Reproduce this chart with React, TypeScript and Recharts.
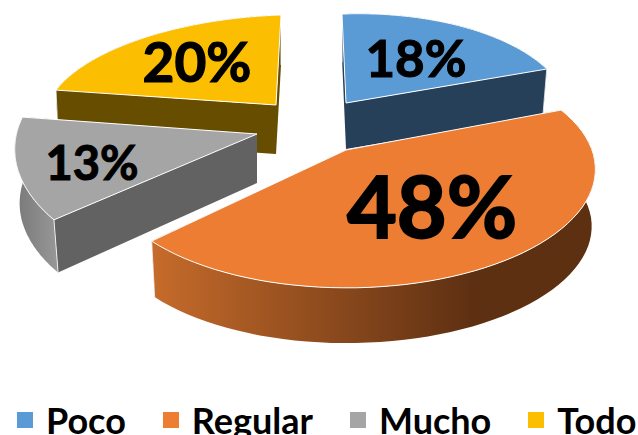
import { PieChart, Pie, Legend } from 'recharts';

const categories = ['Poco', 'Regular', 'Mucho', 'Todo'];
const percents = [18, 48, 13, 20];
const topColors = ['#5B9BD5', '#EC7D32', '#A5A5A5', '#FCBE00'];

const sliceRows = categories.map((name, i) => ({ name, value: percents[i], fill: topColors[i] }));
// Todo has to be painted first, Mucho's top lies over its cut face, so the pie starts one slice earlier
const chartData = [sliceRows[3], sliceRows[0], sliceRows[1], sliceRows[2]];
const total = percents.reduce((sum, v) => sum + v, 0);
const startAt = 90 + (360 * percents[3]) / total;

// Excel's exploded 3D pie is not one consistent ellipse, so every slice gets its own projection.
// ax/ay = apex, ex/ey = ellipse centre, a b c d = unit circle to screen, s = shrink of the lower rim.
const sliceLook: Record<string, any> = {
  Poco: {
    ax: 346, ay: 103, ex: 350, ey: 120.5, a: 220, b: 8, c: -8, d: 106.5, s: 0.98, rim: 46, apexDepth: 46,
    cut: '#264059', wallA: '#264059', wallB: '#264059', stop: 1,
    labelX: 416, labelY: 77, labelSize: 51,
  },
  Regular: {
    ax: 346, ay: 150, ex: 350, ey: 171, a: 244, b: 26, c: -14, d: 116, s: 0.985, rim: 57, apexDepth: 50,
    cut: '#5E3012', wallA: '#C66B2B', wallB: '#5E3012', stop: 0.72,
    labelX: 432, labelY: 238, labelSize: 86,
  },
  Mucho: {
    ax: 257, ay: 134, ex: 261, ey: 155, a: 246, b: 12, c: -0.4, d: 129, s: 0.98, rim: 54, apexDepth: 49,
    cut: '#626262', wallA: '#787878', wallB: '#989898', stop: 1,
    labelX: 92, labelY: 180, labelSize: 47,
  },
  Todo: {
    ax: 276, ay: 105, ex: 278, ey: 111, a: 233.4, b: -3, c: -8, d: 96, s: 0.99, rim: 49, apexDepth: 49,
    cut: '#664D00', wallA: '#664D00', wallB: '#664D00', stop: 1,
    labelX: 197, labelY: 82, labelSize: 55,
  },
};

const FONT = 'Lato, sans-serif';

function rimPoint(look: any, chartAngle: number) {
  const theta = ((90 - chartAngle) * Math.PI) / 180;
  const u = Math.sin(theta);
  const v = -Math.cos(theta);
  return { x: look.ex + look.a * u + look.b * v, y: look.ey + look.c * u + look.d * v };
}

function lowerPoint(look: any, p: { x: number; y: number }) {
  return {
    x: look.ex + (p.x - look.ex) * look.s,
    y: look.ey + (p.y - look.ey) * look.s + look.rim,
  };
}

const toPath = (pts: { x: number; y: number }[]) =>
  pts.map((p, i) => `${i === 0 ? 'M' : 'L'}${p.x.toFixed(1)},${p.y.toFixed(1)}`).join(' ') + ' Z';

function Slice3D(props: any) {
  const { name, startAngle, endAngle, fill } = props;
  const look = sliceLook[name];
  const steps = 60;
  const rim = [];
  for (let i = 0; i <= steps; i++) {
    rim.push(rimPoint(look, startAngle + ((endAngle - startAngle) * i) / steps));
  }
  const lowerRim = rim.map((p) => lowerPoint(look, p));
  const apex = { x: look.ax, y: look.ay };
  const apexLow = { x: look.ax, y: look.ay + look.apexDepth };
  const first = rim[0];
  const last = rim[rim.length - 1];
  const firstLow = lowerPoint(look, first);
  const lastLow = lowerPoint(look, last);
  const gradId = `wall-${name}`;

  return (
    <g>
      <defs>
        <linearGradient id={gradId} x1="0" y1="0" x2="1" y2="0">
          <stop offset="0" stopColor={look.wallA} />
          <stop offset={look.stop} stopColor={look.wallB} />
          <stop offset="1" stopColor={look.wallB} />
        </linearGradient>
      </defs>
      <path d={toPath([apex, first, firstLow, apexLow])} fill={look.cut} stroke="none" />
      <path d={toPath([apex, last, lastLow, apexLow])} fill={look.cut} stroke="none" />
      <path d={toPath([...rim, ...[...lowerRim].reverse()])} fill={`url(#${gradId})`} stroke="none" />
      <line x1={first.x} y1={first.y} x2={firstLow.x} y2={firstLow.y} stroke="#fff" strokeWidth={0.8} />
      <line x1={last.x} y1={last.y} x2={lastLow.x} y2={lastLow.y} stroke="#fff" strokeWidth={0.8} />
      <path d={toPath([apex, ...rim])} fill={fill} stroke="#fff" strokeWidth={1} strokeLinejoin="round" />
    </g>
  );
}

function SliceLabel(props: any) {
  const look = sliceLook[props.name];
  return (
    <text
      x={look.labelX}
      y={look.labelY}
      textAnchor="middle"
      fontFamily={FONT}
      fontWeight={700}
      fontSize={look.labelSize}
      fill="#000"
      stroke="#000"
      strokeWidth={look.labelSize * 0.022}
    >
      {`${props.value}%`}
    </text>
  );
}

function LegendRow({ payload }: any) {
  return (
    <div style={{ display: 'flex', alignItems: 'center', gap: 37, fontFamily: FONT, fontWeight: 700, fontSize: 36, lineHeight: '36px', color: '#000', whiteSpace: 'nowrap' }}>
      {(payload || []).map((item: any) => (
        <div key={item.value} style={{ display: 'flex', alignItems: 'center', gap: 13 }}>
          <span style={{ display: 'inline-block', width: 16, height: 16, background: item.color }} />
          <span>{item.value}</span>
        </div>
      ))}
    </div>
  );
}

export default function App() {
  return (
    <div style={{ position: 'absolute', left: 0, top: 0, width: 638, height: 435, overflow: 'hidden', background: '#fff' }}>
      <PieChart width={638} height={435} margin={{ top: 0, right: 0, bottom: 0, left: 0 }}>
        <Pie
          data={chartData}
          dataKey="value"
          nameKey="name"
          startAngle={startAt}
          endAngle={startAt - 360}
          outerRadius={200}
          stroke="none"
          isAnimationActive={false}
          shape={Slice3D}
          label={SliceLabel}
          labelLine={false}
        />
        <Legend
          content={LegendRow}
          itemSorter={(item: any) => categories.indexOf(item.value)}
          wrapperStyle={{ position: 'absolute', left: 17, top: 402, width: 630 }}
        />
      </PieChart>
    </div>
  );
}
